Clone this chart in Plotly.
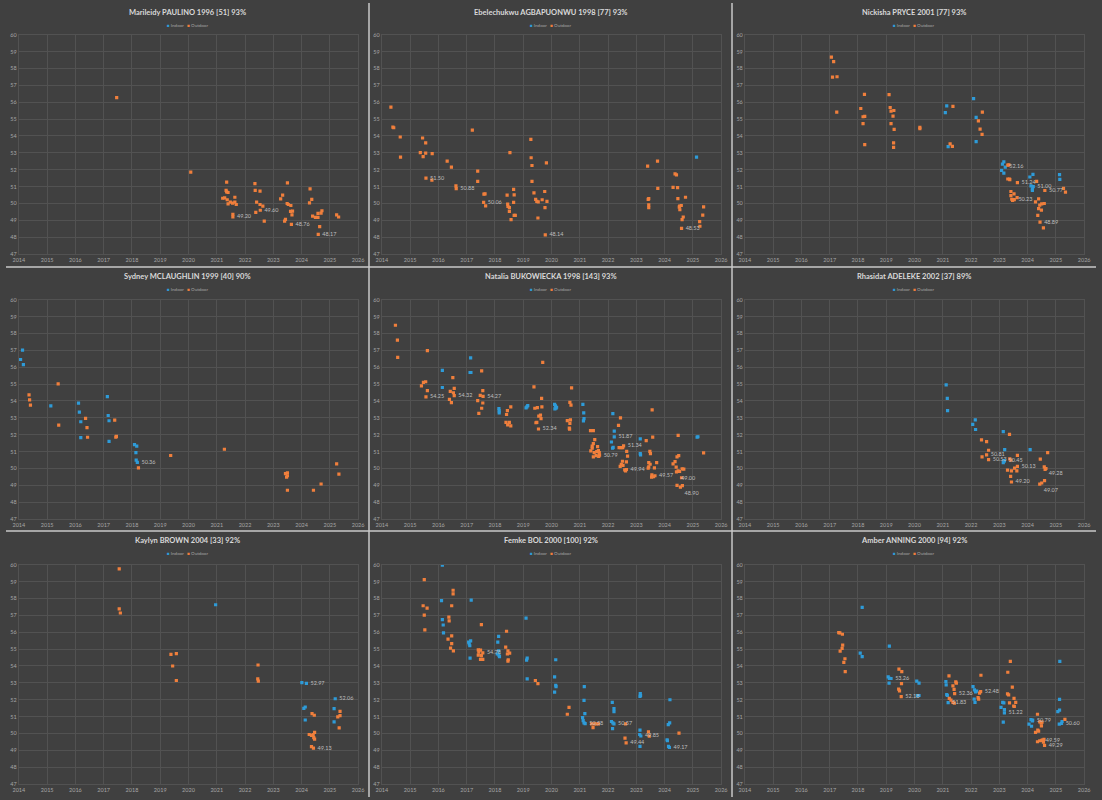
import plotly.graph_objects as go

TITLES = [
    "Marileidy PAULINO 1996 [51] 93%",
    "Ebelechukwu AGBAPUONWU 1998 [77] 93%",
    "Nickisha PRYCE 2001 [77] 93%",
    "Sydney MCLAUGHLIN 1999 [40] 90%",
    "Natalia BUKOWIECKA 1998 [143] 93%",
    "Rhasidat ADELEKE 2002 [37] 89%",
    "Kaylyn BROWN 2004 [33] 92%",
    "Femke BOL 2000 [100] 92%",
    "Amber ANNING 2000 [94] 92%",
]
YEAR_TICKS = list(range(2014, 2027))
TIME_TICKS = list(range(47, 61))

# ---------------- Panel 1: PAULINO ----------------
P1_IN_X = []
P1_IN_Y = []
P1_OUT_X = [2017.46, 2020.08, 2021.35, 2021.33, 2021.35, 2021.40, 2021.21, 2021.28, 2021.37, 2021.48,
            2021.40, 2021.56, 2021.64, 2021.64, 2021.69, 2021.57, 2021.57, 2022.35, 2022.36, 2022.41,
            2022.53, 2022.53, 2022.63, 2022.54, 2022.38, 2022.68, 2023.26, 2023.33, 2023.50, 2023.53,
            2023.49, 2023.62, 2023.61, 2023.68, 2023.66, 2023.43, 2023.40, 2023.64, 2024.30, 2024.28,
            2024.36, 2024.39, 2024.49, 2024.58, 2024.58, 2024.69, 2024.72, 2024.64, 2024.59, 2025.24,
            2025.31]
P1_OUT_Y = [56.27, 51.86, 51.27, 50.78, 50.69, 50.65, 50.31, 50.33, 50.22, 50.08,
            49.98, 50.02, 50.37, 50.08, 49.94, 49.35, 49.20, 51.18, 50.78, 50.08,
            50.73, 49.94, 49.84, 49.60, 49.47, 48.96, 50.27, 50.49, 51.22, 49.94,
            50.00, 49.88, 49.53, 49.55, 49.33, 49.06, 48.96, 48.76, 50.86, 50.04,
            50.24, 49.25, 49.18, 49.18, 49.41, 49.43, 49.57, 48.63, 48.17, 49.33,
            49.20]
P1_LBL_X = [2021.57, 2022.54, 2023.64, 2024.59]
P1_LBL_Y = [49.20, 49.60, 48.76, 48.17]

# ---------------- Panel 2: AGBAPUONWU ----------------
P2_IN_X = [2025.13]
P2_IN_Y = [52.75]
P2_OUT_X = [2014.32, 2014.39, 2014.42, 2014.65, 2014.66, 2015.44, 2015.55, 2015.36, 2015.55, 2015.46,
            2015.78, 2015.56, 2015.77, 2016.31, 2016.46, 2016.62, 2016.63, 2017.20, 2017.39, 2017.39,
            2017.61, 2017.65, 2017.60, 2017.67, 2018.43, 2018.45, 2018.46, 2018.51, 2018.51, 2018.57,
            2018.53, 2018.66, 2018.68, 2018.66, 2018.68, 2018.72, 2019.27, 2019.28, 2019.31, 2019.31,
            2019.38, 2019.44, 2019.48, 2019.53, 2019.52, 2019.67, 2019.76, 2019.77, 2019.82, 2019.84,
            2019.78, 2023.40, 2023.42, 2023.44, 2023.44, 2023.44, 2023.75, 2023.76, 2024.37, 2024.42,
            2024.30, 2024.46, 2024.47, 2024.53, 2024.52, 2024.54, 2024.59, 2024.74, 2024.62, 2024.66,
            2024.60, 2025.24, 2025.25, 2025.35, 2025.38]
P2_OUT_Y = [55.71, 54.53, 54.49, 53.94, 52.75, 53.88, 53.59, 53.02, 52.98, 52.78,
            52.96, 51.50, 51.39, 52.51, 52.16, 51.04, 50.88, 54.35, 51.92, 51.31,
            50.55, 50.57, 50.06, 49.86, 50.49, 49.96, 49.82, 49.75, 49.53, 49.04,
            53.02, 50.84, 50.51, 50.06, 49.29, 49.29, 53.80, 52.71, 52.25, 51.31,
            50.63, 50.24, 50.12, 50.10, 49.14, 50.22, 50.71, 49.75, 52.41, 50.12,
            48.14, 52.22, 50.24, 50.29, 49.92, 49.75, 52.51, 50.90, 51.76, 51.69,
            50.96, 50.94, 50.29, 49.84, 49.78, 49.63, 49.88, 50.37, 49.04, 49.20,
            48.53, 48.92, 48.65, 49.31, 49.80]
P2_LBL_X = [2015.56, 2016.63, 2017.60, 2019.78, 2024.60]
P2_LBL_Y = [51.50, 50.88, 50.06, 48.14, 48.53]

# ---------------- Panel 3: PRYCE ----------------
P3_IN_X = [2021.14, 2021.09, 2021.19, 2022.09, 2022.18, 2022.18, 2023.16, 2023.11, 2023.21, 2023.08,
           2023.16, 2024.08, 2024.19, 2024.12, 2024.17, 2024.17, 2024.20, 2025.13, 2025.14]
P3_IN_Y = [55.78, 55.39, 53.37, 56.22, 55.10, 53.67, 52.47, 52.33, 52.16, 51.96,
           51.80, 51.57, 51.73, 51.04, 50.86, 50.78, 51.00, 51.71, 51.43]
P3_OUT_X = [2017.06, 2017.14, 2017.10, 2017.26, 2017.25, 2018.23, 2018.10, 2018.18, 2018.24, 2018.18,
            2018.24, 2019.10, 2019.14, 2019.17, 2019.27, 2019.24, 2019.17, 2019.28, 2019.26, 2019.26,
            2020.19, 2020.19, 2021.36, 2021.26, 2021.34, 2022.40, 2022.26, 2022.32, 2022.39, 2023.30,
            2023.34, 2023.30, 2023.36, 2023.37, 2023.64, 2023.41, 2023.41, 2023.44, 2023.47, 2023.52,
            2023.63, 2023.53, 2024.32, 2024.39, 2024.28, 2024.43, 2024.39, 2024.50, 2024.59, 2024.49,
            2024.36, 2024.44, 2024.56, 2024.61, 2025.27, 2025.34]
P3_OUT_Y = [58.67, 58.41, 57.49, 57.51, 55.41, 56.47, 55.63, 55.14, 55.16, 54.73,
            53.49, 56.45, 55.69, 55.47, 55.51, 55.18, 54.73, 54.39, 53.59, 53.33,
            54.51, 54.43, 55.76, 53.53, 53.39, 55.41, 54.90, 54.41, 54.10, 52.27,
            52.29, 51.45, 51.45, 51.41, 51.24, 50.71, 50.47, 50.25, 50.18, 50.57,
            50.35, 50.23, 51.31, 50.27, 50.10, 49.90, 49.69, 49.98, 50.00, 49.61,
            49.29, 48.89, 48.55, 50.77, 50.90, 50.67]
P3_LBL_X = [2023.21, 2023.64, 2023.53, 2024.20, 2024.61, 2024.44]
P3_LBL_Y = [52.16, 51.24, 50.23, 51.00, 50.77, 48.89]

# ---------------- Panel 4: MCLAUGHLIN ----------------
P4_IN_X = [2014.13, 2014.06, 2014.16, 2015.13, 2016.11, 2016.14, 2016.19, 2016.19, 2017.13, 2017.16,
           2017.19, 2017.19, 2018.09, 2018.17, 2018.14, 2018.15, 2018.19]
P4_IN_Y = [57.01, 56.46, 56.15, 53.71, 53.87, 53.34, 52.77, 51.83, 54.26, 53.14,
           52.83, 51.61, 51.41, 51.32, 50.94, 50.49, 50.36]
P4_OUT_X = [2014.36, 2014.38, 2014.41, 2015.39, 2015.41, 2016.36, 2016.41, 2016.43, 2017.39, 2017.43,
            2017.45, 2018.23, 2019.37, 2021.27, 2023.43, 2023.50, 2023.50, 2023.47, 2023.50, 2024.42,
            2024.69, 2025.24, 2025.32]
P4_OUT_Y = [54.36, 54.07, 53.75, 55.01, 52.57, 52.97, 52.42, 51.85, 52.87, 51.86,
            51.90, 50.04, 50.77, 51.14, 49.69, 49.74, 49.57, 49.49, 48.71, 48.71,
            49.08, 50.27, 49.67]
P4_LBL_X = [2018.19]
P4_LBL_Y = [50.36]

# ---------------- Panel 5: BUKOWIECKA ----------------
P5_IN_X = [2016.14, 2016.14, 2017.14, 2017.12, 2017.15, 2018.14, 2018.15, 2018.15, 2019.13, 2019.16,
           2019.10, 2020.11, 2020.14, 2020.18, 2020.12, 2020.16, 2021.11, 2021.14, 2021.15, 2021.13,
           2022.17, 2022.22, 2022.22, 2022.12, 2022.16, 2022.18, 2023.14, 2023.14, 2023.15, 2025.15,
           2025.18]
P5_IN_Y = [55.82, 54.80, 56.55, 55.69, 55.69, 53.55, 53.41, 53.29, 53.65, 53.73,
           53.59, 53.80, 53.71, 53.63, 53.53, 53.57, 53.80, 53.29, 52.96, 52.82,
           53.25, 52.22, 51.87, 51.57, 51.20, 51.25, 51.75, 50.88, 50.80, 51.86,
           51.88]
P5_OUT_X = [2014.48, 2014.55, 2014.56, 2015.61, 2015.40, 2015.47, 2015.55, 2015.61, 2015.56, 2016.51,
            2016.56, 2016.42, 2016.53, 2016.56, 2016.39, 2016.46, 2017.53, 2017.57, 2017.48, 2017.58,
            2017.39, 2017.57, 2017.53, 2017.43, 2018.56, 2018.44, 2018.41, 2018.39, 2018.51, 2018.45,
            2018.56, 2019.38, 2019.41, 2019.50, 2019.65, 2019.66, 2019.69, 2019.55, 2019.61, 2019.63,
            2019.48, 2019.45, 2019.54, 2020.71, 2020.65, 2020.69, 2020.56, 2020.67, 2020.65, 2020.63,
            2020.64, 2021.38, 2021.48, 2021.53, 2021.48, 2021.44, 2021.44, 2021.39, 2021.51, 2021.60,
            2021.66, 2021.69, 2021.63, 2021.58, 2021.67, 2021.48, 2021.70, 2022.37, 2022.44, 2022.39,
            2022.46, 2022.52, 2022.55, 2022.51, 2022.47, 2022.53, 2022.43, 2022.66, 2022.69, 2022.65,
            2022.59, 2022.62, 2022.65, 2023.35, 2023.56, 2023.58, 2023.44, 2023.49, 2023.44, 2023.42,
            2023.48, 2023.50, 2023.64, 2023.72, 2023.55, 2023.61, 2023.54, 2023.66, 2024.48, 2024.30,
            2024.37, 2024.41, 2024.44, 2024.50, 2024.42, 2024.48, 2024.53, 2024.62, 2024.68, 2024.60,
            2024.44, 2024.56, 2024.63, 2025.38]
P5_OUT_Y = [58.49, 57.61, 56.59, 56.98, 54.90, 55.10, 55.14, 54.61, 54.25, 55.39,
            54.75, 54.57, 54.49, 54.32, 54.10, 53.90, 55.78, 54.61, 54.33, 54.27,
            54.02, 53.88, 53.57, 53.27, 53.65, 53.43, 53.20, 52.73, 52.73, 52.59,
            52.53, 54.84, 53.57, 53.61, 54.16, 53.65, 56.29, 53.10, 53.16, 52.96,
            52.73, 52.71, 52.34, 54.78, 53.92, 53.76, 52.84, 52.88, 52.67, 52.39,
            52.33, 52.24, 52.24, 51.71, 51.47, 51.33, 51.20, 51.04, 50.94, 51.00,
            51.06, 50.94, 51.29, 50.76, 50.71, 50.69, 50.79, 52.55, 53.00, 51.24,
            51.24, 51.24, 51.34, 50.43, 50.25, 50.18, 50.12, 51.02, 50.73, 50.39,
            49.92, 49.86, 49.94, 51.65, 53.47, 51.86, 50.35, 50.25, 50.10, 50.02,
            51.02, 50.88, 50.04, 50.35, 49.63, 49.51, 49.49, 49.57, 51.96, 50.27,
            50.41, 50.08, 50.69, 50.76, 49.80, 49.86, 49.82, 49.98, 49.96, 49.45,
            49.00, 48.90, 48.98, 50.92]
P5_LBL_X = [2015.56, 2016.56, 2017.58, 2019.54, 2021.70, 2022.22, 2022.55, 2022.65, 2023.66, 2024.44,
            2024.56]
P5_LBL_Y = [54.25, 54.32, 54.27, 52.34, 50.79, 51.87, 51.34, 49.94, 49.57, 49.00,
            48.90]

# ---------------- Panel 6: ADELEKE ----------------
P6_IN_X = [2021.12, 2021.16, 2021.17, 2022.15, 2022.06, 2022.16, 2023.14, 2023.19, 2023.16, 2023.14,
           2023.18, 2024.09]
P6_IN_Y = [54.96, 54.16, 53.43, 52.88, 52.61, 52.31, 52.18, 51.12, 50.47, 50.35,
           50.45, 51.12]
P6_OUT_X = [2022.37, 2022.55, 2022.62, 2022.55, 2022.39, 2022.62, 2023.36, 2023.37, 2023.41, 2023.64,
            2023.64, 2023.29, 2023.43, 2023.54, 2023.62, 2023.40, 2023.43, 2024.45, 2024.71, 2024.59,
            2024.65, 2024.62, 2024.60, 2024.50, 2024.43]
P6_OUT_Y = [51.69, 51.59, 51.08, 50.81, 50.69, 50.53, 52.02, 50.57, 50.49, 50.78,
            50.13, 49.90, 49.86, 50.02, 49.86, 49.53, 49.20, 50.55, 50.94, 50.10,
            50.00, 49.94, 49.28, 49.14, 49.07]
P6_LBL_X = [2022.55, 2022.62, 2023.18, 2023.64, 2023.43, 2024.60, 2024.43]
P6_LBL_Y = [50.81, 50.53, 50.45, 50.13, 49.20, 49.28, 49.07]

# ---------------- Panel 7: BROWN ----------------
P7_IN_X = [2020.96, 2024.01, 2024.17, 2024.13, 2024.08, 2024.13, 2025.19, 2025.15, 2025.15]
P7_IN_Y = [57.63, 53.02, 52.97, 51.57, 51.49, 50.80, 52.06, 51.47, 50.69]
P7_OUT_X = [2017.55, 2017.55, 2017.59, 2019.38, 2019.57, 2019.44, 2019.57, 2022.46, 2022.45, 2022.47,
            2024.37, 2024.45, 2024.27, 2024.35, 2024.41, 2024.46, 2024.43, 2024.46, 2024.35, 2024.42,
            2025.36, 2025.36, 2025.28, 2025.33]
P7_OUT_Y = [59.76, 57.39, 57.14, 54.69, 54.73, 54.00, 53.14, 54.06, 53.24, 53.10,
            51.18, 51.08, 49.94, 49.88, 49.94, 50.06, 49.76, 49.67, 49.22, 49.13,
            51.31, 51.06, 50.98, 50.33]
P7_LBL_X = [2024.17, 2025.19, 2024.42]
P7_LBL_Y = [52.97, 52.06, 49.13]

# ---------------- Panel 8: BOL ----------------
P8_IN_X = [2016.14, 2016.11, 2016.14, 2016.17, 2016.18, 2017.16, 2017.12, 2017.07, 2017.09, 2017.11,
           2017.14, 2018.13, 2018.10, 2018.13, 2018.14, 2018.16, 2018.08, 2019.10, 2019.14, 2019.12,
           2019.14, 2020.11, 2020.11, 2020.15, 2020.16, 2020.15, 2021.16, 2021.15, 2021.18, 2021.10,
           2021.12, 2021.15, 2021.19, 2022.15, 2022.21, 2022.21, 2022.12, 2022.17, 2022.21, 2022.16,
           2023.14, 2023.15, 2023.13, 2023.13, 2023.12, 2023.16, 2023.13, 2024.09, 2024.10, 2024.19,
           2024.18, 2024.13, 2024.14, 2024.17]
P8_IN_Y = [59.98, 57.88, 56.75, 56.43, 55.96, 57.90, 54.47, 55.41, 55.31, 55.20,
           55.49, 55.75, 55.41, 54.90, 54.65, 54.55, 54.71, 56.84, 54.47, 54.35,
           53.24, 53.35, 52.45, 52.86, 52.78, 54.37, 52.78, 51.96, 51.18, 50.94,
           50.76, 50.63, 50.58, 51.84, 51.47, 51.29, 50.71, 50.63, 50.57, 50.29,
           52.37, 52.25, 52.20, 50.20, 49.94, 49.85, 49.24, 49.63, 49.57, 52.00,
           50.63, 50.53, 49.24, 49.17]
P8_OUT_X = [2015.50, 2015.46, 2015.60, 2015.50, 2015.52, 2016.52, 2016.52, 2016.47, 2016.37, 2016.38,
            2016.47, 2016.34, 2016.47, 2016.43, 2016.53, 2017.52, 2017.41, 2017.49, 2017.43, 2017.41,
            2017.52, 2017.57, 2017.49, 2017.57, 2018.38, 2018.41, 2018.46, 2018.44, 2018.52, 2018.47,
            2018.46, 2019.43, 2019.52, 2020.62, 2020.56, 2021.42, 2021.51, 2021.58, 2021.66, 2021.47,
            2022.62, 2022.60, 2022.64, 2023.43, 2023.46, 2024.51]
P8_OUT_Y = [59.12, 57.57, 57.43, 57.02, 56.14, 58.49, 58.27, 57.57, 56.90, 56.67,
            55.78, 55.59, 55.33, 55.06, 54.90, 56.45, 54.96, 54.94, 54.82, 54.65,
            54.61, 54.78, 54.39, 54.39, 55.12, 56.06, 54.90, 54.71, 54.76, 54.37,
            54.29, 53.14, 52.96, 51.55, 51.14, 50.57, 50.57, 50.57, 50.57, 50.35,
            50.57, 49.73, 49.44, 50.10, 49.84, 50.02]
P8_LBL_X = [2017.57, 2021.19, 2022.21, 2022.64, 2023.16, 2024.17]
P8_LBL_Y = [54.78, 50.58, 50.57, 49.44, 49.85, 49.17]

# ---------------- Panel 9: ANNING ----------------
P9_IN_X = [2018.15, 2018.08, 2018.15, 2019.11, 2019.07, 2019.11, 2019.17, 2019.10, 2020.08, 2020.16,
           2020.10, 2020.16, 2021.11, 2021.12, 2021.14, 2021.16, 2021.19, 2022.07, 2022.12, 2022.16,
           2022.20, 2022.11, 2022.14, 2023.06, 2023.12, 2023.16, 2023.18, 2023.18, 2023.14, 2024.05,
           2024.14, 2024.12, 2024.17, 2024.18, 2025.14, 2025.13, 2025.07, 2025.13, 2025.12, 2025.22,
           2025.20]
P9_IN_Y = [57.47, 54.76, 54.55, 55.18, 53.35, 53.27, 53.26, 52.98, 53.10, 52.98,
           52.24, 52.25, 53.08, 52.88, 52.31, 52.25, 51.83, 52.78, 52.59, 52.47,
           52.51, 52.04, 51.84, 51.55, 51.84, 51.82, 51.41, 51.22, 50.67, 50.55,
           50.43, 50.82, 50.75, 50.79, 54.27, 52.02, 51.29, 51.39, 50.55, 50.71,
           50.60]
P9_OUT_X = [2017.32, 2017.36, 2017.45, 2017.46, 2017.44, 2017.37, 2017.54, 2017.50, 2017.55, 2019.45,
            2019.55, 2019.54, 2019.44, 2019.47, 2019.53, 2021.22, 2021.36, 2021.40, 2021.46, 2021.48,
            2021.42, 2021.23, 2021.29, 2021.36, 2021.41, 2022.35, 2022.25, 2022.27, 2022.30, 2022.34,
            2023.39, 2023.30, 2023.29, 2023.33, 2023.36, 2023.46, 2023.52, 2023.58, 2023.51, 2023.53,
            2024.35, 2024.43, 2024.48, 2024.51, 2024.49, 2024.36, 2024.39, 2024.28, 2024.35, 2024.43,
            2024.50, 2024.53, 2024.58, 2024.56, 2024.60, 2025.32]
P9_OUT_Y = [55.98, 55.96, 55.88, 55.24, 55.04, 54.88, 54.43, 54.22, 53.67, 53.82,
            53.67, 52.96, 52.63, 52.53, 52.18, 53.41, 52.82, 52.61, 53.06, 52.98,
            52.36, 52.08, 51.98, 51.84, 51.80, 53.45, 52.12, 52.04, 52.39, 52.48,
            54.27, 53.63, 52.35, 52.29, 51.82, 52.75, 52.08, 51.84, 51.63, 51.60,
            51.14, 50.69, 50.63, 50.67, 50.45, 50.20, 50.14, 50.06, 49.51, 49.57,
            49.59, 49.61, 49.65, 49.49, 49.29, 50.84]
P9_LBL_X = [2019.17, 2019.53, 2021.42, 2021.19, 2022.34, 2023.18, 2024.18, 2024.50, 2024.60, 2025.20]
P9_LBL_Y = [53.26, 52.18, 52.36, 51.83, 52.48, 51.22, 50.79, 49.59, 49.29, 50.60]

PANELS = [
    (P1_IN_X, P1_IN_Y, P1_OUT_X, P1_OUT_Y, P1_LBL_X, P1_LBL_Y),
    (P2_IN_X, P2_IN_Y, P2_OUT_X, P2_OUT_Y, P2_LBL_X, P2_LBL_Y),
    (P3_IN_X, P3_IN_Y, P3_OUT_X, P3_OUT_Y, P3_LBL_X, P3_LBL_Y),
    (P4_IN_X, P4_IN_Y, P4_OUT_X, P4_OUT_Y, P4_LBL_X, P4_LBL_Y),
    (P5_IN_X, P5_IN_Y, P5_OUT_X, P5_OUT_Y, P5_LBL_X, P5_LBL_Y),
    (P6_IN_X, P6_IN_Y, P6_OUT_X, P6_OUT_Y, P6_LBL_X, P6_LBL_Y),
    (P7_IN_X, P7_IN_Y, P7_OUT_X, P7_OUT_Y, P7_LBL_X, P7_LBL_Y),
    (P8_IN_X, P8_IN_Y, P8_OUT_X, P8_OUT_Y, P8_LBL_X, P8_LBL_Y),
    (P9_IN_X, P9_IN_Y, P9_OUT_X, P9_OUT_Y, P9_LBL_X, P9_LBL_Y),
]

# ---------------- styling / layout ----------------
W, H = 1102, 800
BG = "#404040"
GRID = "#525252"
TICK = "#a6a6a6"
TITLE_C = "#d9d9d9"
LABEL_C = "#bfbfbf"
IN_C = "#2E9BD8"
OUT_C = "#F07F3C"
SEP_C = "#c8c8c8"
FONT = "Lato"

COL_OFF = [0, 367, 734]
ROW_OFF = [0, 266, 532]
PLOT_TOP = [32, 33, 34]
PLOT_BOT = [253, 254, 255]
PLOT_L, PLOT_R = 13, 356


def label_positions(xs, ys):
    """Nudge only near-coincident data labels apart (style only)."""
    pos = ["middle right"] * len(xs)
    for a in range(len(xs)):
        for b in range(len(xs)):
            if a != b and abs(xs[a] - xs[b]) < 0.3 and abs(ys[a] - ys[b]) < 0.28:
                pos[a] = "top right" if ys[a] >= ys[b] else "bottom right"
    return pos


fig = go.Figure()
layout = dict(
    width=W, height=H, margin=dict(l=0, r=0, t=0, b=0),
    paper_bgcolor=BG, plot_bgcolor=BG, showlegend=False,
    font=dict(family=FONT, color=TICK),
)
annotations = []
shapes = []

for i, (ix, iy, ox, oy, lx, ly) in enumerate(PANELS):
    r, c = divmod(i, 3)
    n = "" if i == 0 else str(i + 1)
    xa, ya = "x" + n, "y" + n
    x0 = (COL_OFF[c] + PLOT_L) / W
    x1 = (COL_OFF[c] + PLOT_R) / W
    y0 = 1 - (ROW_OFF[r] + PLOT_BOT[r]) / H
    y1 = 1 - (ROW_OFF[r] + PLOT_TOP[r]) / H
    layout["xaxis" + n] = dict(
        domain=[x0, x1], anchor=ya, range=[2014, 2026],
        tickmode="array", tickvals=YEAR_TICKS, ticktext=[str(v) for v in YEAR_TICKS],
        showgrid=True, gridcolor=GRID, gridwidth=1, zeroline=False,
        showline=True, linecolor=GRID, mirror=True, ticks="",
        tickfont=dict(size=5.5, color=TICK, family=FONT),
    )
    layout["yaxis" + n] = dict(
        domain=[y0, y1], anchor=xa, range=[47, 60],
        tickmode="array", tickvals=TIME_TICKS, ticktext=[str(v) for v in TIME_TICKS],
        showgrid=True, gridcolor=GRID, gridwidth=1, zeroline=False,
        showline=True, linecolor=GRID, mirror=True, ticks="",
        tickfont=dict(size=5.5, color=TICK, family=FONT),
    )
    fig.add_trace(go.Scatter(
        x=ix, y=iy, mode="markers", xaxis=xa, yaxis=ya, name="Indoor",
        marker=dict(symbol="square", size=3.2, color=IN_C, line=dict(width=0)),
    ))
    fig.add_trace(go.Scatter(
        x=ox, y=oy, mode="markers", xaxis=xa, yaxis=ya, name="Outdoor",
        marker=dict(symbol="square", size=3.2, color=OUT_C, line=dict(width=0)),
    ))
    fig.add_trace(go.Scatter(
        x=lx, y=ly, mode="markers+text", xaxis=xa, yaxis=ya,
        text=[f"{v:.2f}" for v in ly], textposition=label_positions(lx, ly),
        textfont=dict(size=5.5, color=LABEL_C, family=FONT),
        marker=dict(size=5, color="rgba(0,0,0,0)"), hoverinfo="skip",
    ))
    cx = (COL_OFF[c] + 183.5) / W
    annotations.append(dict(
        text="<b>" + TITLES[i] + "</b>", x=cx, y=1 - (ROW_OFF[r] + 9.5) / H,
        xref="paper", yref="paper", showarrow=False, xanchor="center", yanchor="middle",
        font=dict(size=7.5, color=TITLE_C, family=FONT),
    ))
    annotations.append(dict(
        text=f'<span style="color:{IN_C}">■</span> Indoor   <span style="color:{OUT_C}">■</span> Outdoor',
        x=cx, y=1 - (ROW_OFF[r] + 22.5) / H,
        xref="paper", yref="paper", showarrow=False, xanchor="center", yanchor="middle",
        font=dict(size=4.5, color=TICK, family=FONT),
    ))

for xp in [367, 734]:
    shapes.append(dict(type="line", xref="paper", yref="paper", x0=xp / W, x1=xp / W, y0=0, y1=1,
                       line=dict(color=SEP_C, width=1.5)))
for yp in [266, 532]:
    shapes.append(dict(type="line", xref="paper", yref="paper", y0=1 - yp / H, y1=1 - yp / H, x0=0, x1=1,
                       line=dict(color=SEP_C, width=1.5)))

layout["annotations"] = annotations
layout["shapes"] = shapes
fig.update_layout(**layout)
fig.write_html("out.html")
